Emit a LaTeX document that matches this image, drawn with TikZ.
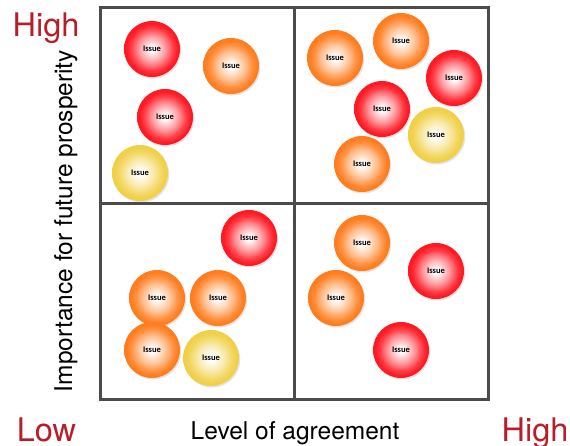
\documentclass[tikz,border=0pt]{standalone}
\usepackage{fontspec}
\setmainfont{TeX Gyre Heros}
\newfontfamily\issuefont{Carlito}
\usetikzlibrary{shadows}
\definecolor{cred}{RGB}{255,25,35}
\definecolor{corange}{RGB}{255,125,30}
\definecolor{cyellow}{RGB}{240,208,70}
\definecolor{lowhigh}{RGB}{185,30,40}
\definecolor{gridgray}{RGB}{75,75,75}
\pgfdeclareradialshading{ballred}{\pgfpoint{0bp}{0bp}}{color(0bp)=(white); color(2bp)=(white); color(12bp)=(cred!45!white); color(19bp)=(cred!85!white); color(23bp)=(cred); color(50bp)=(cred)}
\pgfdeclareradialshading{ballorange}{\pgfpoint{0bp}{0bp}}{color(0bp)=(white); color(2bp)=(white); color(12bp)=(corange!45!white); color(19bp)=(corange!85!white); color(23bp)=(corange); color(50bp)=(corange)}
\pgfdeclareradialshading{ballyellow}{\pgfpoint{0bp}{0bp}}{color(0bp)=(white); color(2bp)=(white); color(12bp)=(cyellow!45!white); color(19bp)=(cyellow!85!white); color(23bp)=(cyellow); color(50bp)=(cyellow)}
\tikzset{
  issue/.style={circle, minimum size=56pt, inner sep=0pt, font=\issuefont\bfseries\fontsize{8.5}{9}\selectfont,
    drop shadow={opacity=0.22, shadow xshift=1.2pt, shadow yshift=-1.5pt}},
  redissue/.style={issue, shading=ballred},
  orangeissue/.style={issue, shading=ballorange},
  yellowissue/.style={issue, shading=ballyellow},
  axislabel/.style={font=\fontsize{24.5}{26}\selectfont, text=black, inner sep=0pt, anchor=base},
  endlabel/.style={font=\fontsize{32.5}{34}\selectfont, text=lowhigh, inner sep=0pt, anchor=base},
  gridline/.style={line width=3pt, draw=gridgray}
}
\begin{document}
\begin{tikzpicture}[x=1pt,y=-1pt]
\useasboundingbox (0,0) rectangle (570,446);
% grid
\node[gridline, draw, minimum width=388pt, minimum height=391pt, inner sep=0pt,
  general shadow={fill=black, opacity=0.15, shadow xshift=1.5pt, shadow yshift=-1.5pt}, fill=white] (grid) at (294,203.5) {};
\draw[gridline] (grid.north) -- (grid.south);
\draw[gridline] (grid.west) -- (grid.east);
% top-left
\node[redissue] (i1) at (152,49) {Issue};
\node[orangeissue] (i2) at (231,66) {Issue};
\node[redissue] (i3) at (165,117) {Issue};
\node[yellowissue] (i4) at (140,173) {Issue};
% top-right
\node[orangeissue] (i5) at (335,58) {Issue};
\node[orangeissue] (i6) at (401,41) {Issue};
\node[redissue] (i7) at (454,78) {Issue};
\node[redissue] (i8) at (382,109) {Issue};
\node[yellowissue] (i9) at (436,135) {Issue};
\node[orangeissue] (i10) at (362,164) {Issue};
% bottom-left
\node[redissue] (i11) at (249,238) {Issue};
\node[orangeissue] (i12) at (157,298) {Issue};
\node[orangeissue] (i13) at (218,298) {Issue};
\node[orangeissue] (i14) at (152,350) {Issue};
\node[yellowissue] (i15) at (211,358) {Issue};
% bottom-right
\node[orangeissue] (i16) at (362,243) {Issue};
\node[redissue] (i17) at (436,271) {Issue};
\node[orangeissue] (i18) at (336,298) {Issue};
\node[redissue] (i19) at (401,350) {Issue};
% labels
\node[endlabel] (hightop) at (46,36.7) {High};
\node[endlabel] (low) at (46.5,441.7) {Low};
\node[endlabel] (highright) at (535,441.7) {High};
\node[axislabel] (xlab) at (295,439.3) {Level of agreement};
\node[axislabel, rotate=90] (ylab) at (72,221) {Importance for future prosperity};
\end{tikzpicture}
\end{document}
